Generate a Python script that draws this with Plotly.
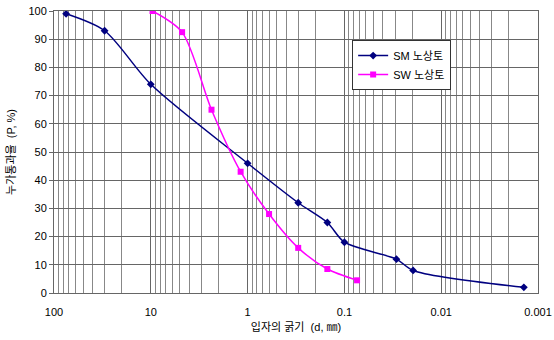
import plotly.graph_objects as go

# Data
sm_d = [75, 30, 10, 1, 0.3, 0.15, 0.1, 0.029, 0.0195, 0.0014]
sm_p = [99, 93, 74, 46, 32, 25, 18, 12, 8, 2]
sw_d = [9.6, 4.75, 2.36, 1.18, 0.6, 0.3, 0.15, 0.074]
sw_p = [100, 92.5, 65, 43, 28, 16, 8.5, 4.5]
x_ticks = [100, 10, 1, 0.1, 0.01, 0.001]
x_tick_text = ["100", "10", "1", "0.1", "0.01", "0.001"]
y_ticks = list(range(0, 101, 10))

minor_vals = [m * 10 ** e for e in range(-3, 2) for m in range(2, 10)]

font_family = "Liberation Sans, Noto Sans CJK KR, sans-serif"

fig = go.Figure()
fig.add_trace(go.Scatter(
    x=sm_d, y=sm_p, name="SM 노상토", mode="lines+markers",
    line=dict(color="#000080", width=1.5, shape="spline", smoothing=0.8),
    marker=dict(symbol="diamond", size=6, color="#000080"),
))
fig.add_trace(go.Scatter(
    x=sw_d, y=sw_p, name="SW 노상토", mode="lines+markers",
    line=dict(color="#FF00FF", width=1.5, shape="spline", smoothing=0.8),
    marker=dict(symbol="square", size=6, color="#FF00FF"),
))

fig.update_layout(
    width=554, height=340,
    margin=dict(l=54, r=16, t=11, b=47),
    paper_bgcolor="white", plot_bgcolor="white",
    font=dict(family=font_family, size=11, color="black"),
    showlegend=True,
    legend=dict(
        x=0.616, y=0.897, xanchor="left", yanchor="top",
        bgcolor="white", bordercolor="#333333", borderwidth=1,
        font=dict(size=11), itemwidth=30, tracegroupgap=0,
    ),
)
fig.update_xaxes(
    type="log", range=[2, -3], automargin=False,
    tickvals=x_ticks, ticktext=x_tick_text, ticklabelstandoff=9,
    ticklabeloverflow="allow",
    showgrid=True, gridcolor="#666666", gridwidth=1,
    minor=dict(tickvals=minor_vals, showgrid=True, gridcolor="#888888", gridwidth=1),
    showline=True, linecolor="#666666", linewidth=1, mirror=True,
    ticks="", zeroline=False,
    title=dict(text="입자의 굵기  (d, ㎜)", font=dict(size=11), standoff=6),
)
fig.update_yaxes(
    range=[0, 100], tickvals=y_ticks, automargin=False,
    ticklabeloverflow="allow",
    showgrid=True, gridcolor="#666666", gridwidth=1,
    showline=True, linecolor="#666666", linewidth=1, mirror=True,
    ticks="outside", ticklen=4, tickcolor="#666666", zeroline=False,
    title=dict(text="누가통과율  (P, %)", font=dict(size=11), standoff=10),
)

fig.write_html(
    "out.html",
    config={"displayModeBar": False},
    post_script="document.body.style.margin='0';document.body.style.overflow='hidden';",
)
